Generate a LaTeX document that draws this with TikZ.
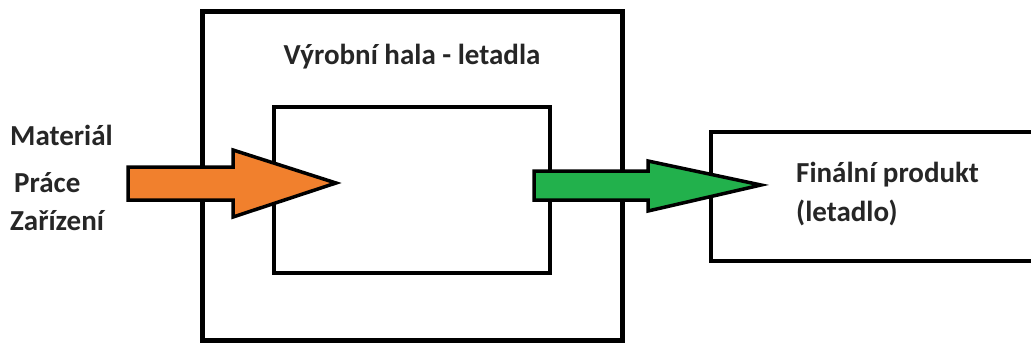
\documentclass[tikz,border=0pt]{standalone}
\usepackage{fontspec}
\setmainfont{Carlito}
\definecolor{inorange}{RGB}{241,128,45}
\definecolor{outgreen}{RGB}{34,177,76}
\tikzset{
  frame/.style={draw=black, line width=#1},
  lbl/.style={font=\bfseries\fontsize{29}{34}\selectfont, text=black!85, inner sep=0pt},
  flow/.style={draw=black, line width=3.5pt, line join=miter, fill=#1}
}
\begin{document}
\begin{tikzpicture}[x=1pt, y=-1pt]
  \useasboundingbox (0,0) rectangle (1031,345);
  \clip (0,0) rectangle (1031,345);
  % production hall and its inner workspace
  \draw[frame=5pt] (202,12) rectangle (622,340);
  \draw[frame=4pt] (274,107) rectangle (550,273);
  % final product box, running off the right edge
  \draw[frame=4pt] (711,132) rectangle (1045,261);
  % labels
  \node[lbl, anchor=west] (mat) at (10,135) {Materiál};
  \node[lbl, anchor=west] (pra) at (14,183) {Práce};
  \node[lbl, anchor=west] (zar) at (10,221) {Zařízení};
  \node[lbl] (hala) at (412,57) {Výrobní hala - letadla};
  \node[lbl, anchor=west] (fin) at (796,175) {Finální produkt};
  \node[lbl, anchor=west] (let) at (796,213) {(letadlo)};
  % input arrow into the hall
  \coordinate (inTip) at (336,183);
  \draw[flow=inorange] (128,167) -- (233,167) -- (233,150) -- (inTip)
     -- (233,217) -- (233,200) -- (128,200) -- cycle;
  % output arrow towards the final product
  \coordinate (outTip) at (761,185);
  \draw[flow=outgreen] (534,171) -- (648,171) -- (648,161) -- (outTip)
     -- (648,211) -- (648,200) -- (534,200) -- cycle;
\end{tikzpicture}
\end{document}
